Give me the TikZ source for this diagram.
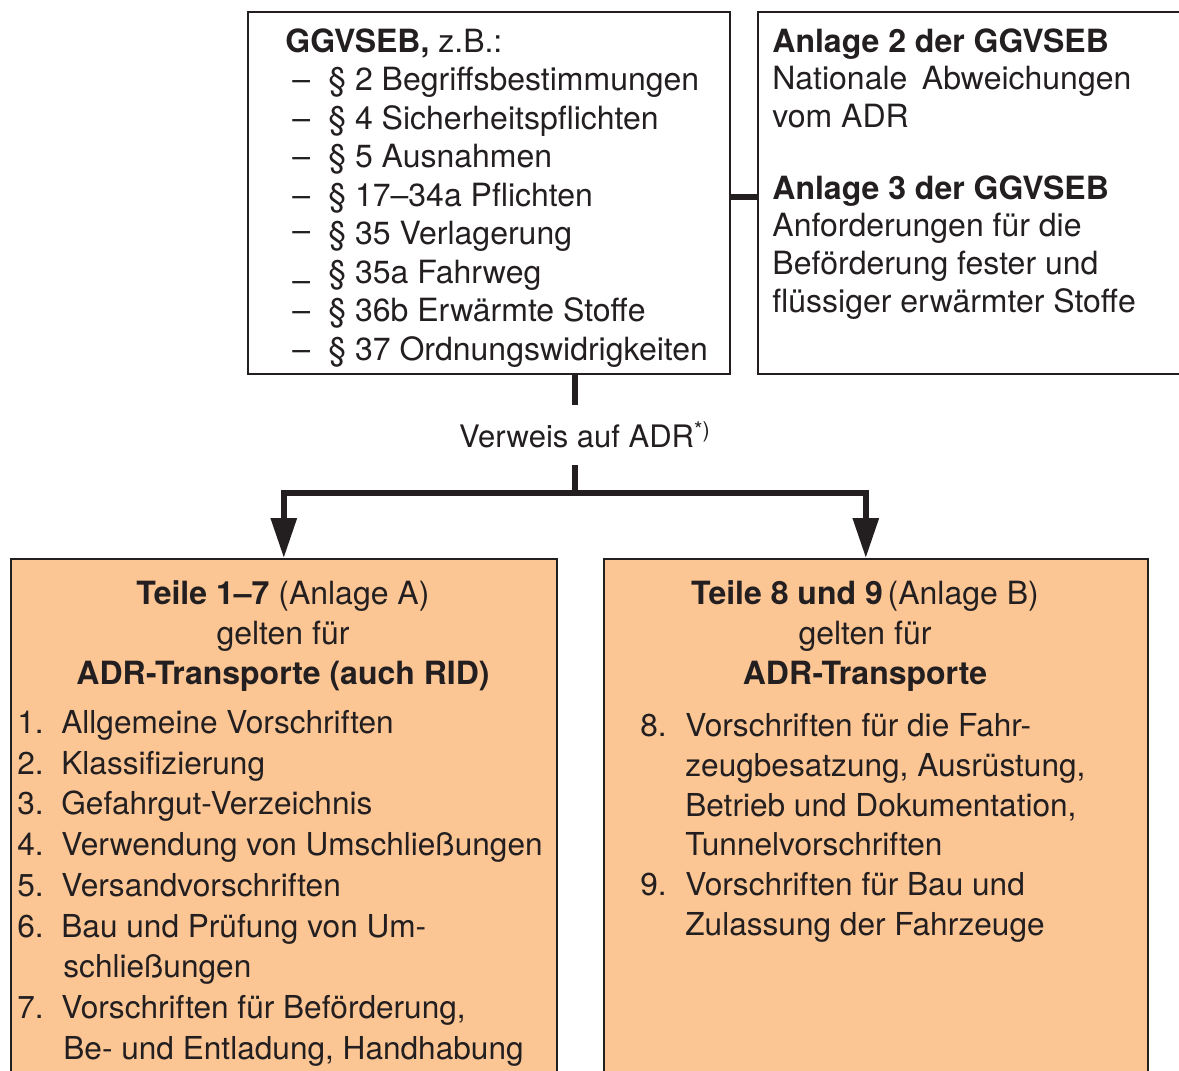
\documentclass[tikz,border=0pt]{standalone}
\usepackage{fontspec}
\setmainfont{TeX Gyre Heros}
\usetikzlibrary{arrows.meta}
\definecolor{peach}{RGB}{251,197,148}
\definecolor{ink}{RGB}{35,31,32}

\begin{document}
\begin{tikzpicture}[x=0.5pt,y=-0.5pt,
  >={Triangle[length=20pt,width=12.5pt]},
  box/.style={draw=ink,line width=0.8pt,inner sep=0pt,anchor=north west},
  peachbox/.style={box,fill=peach},
  txt/.style={inner sep=0pt,text=ink,align=left},
  link/.style={draw=ink,line width=3pt}]

\useasboundingbox (0,0) rectangle (1179,1071);
\clip (0,0) rectangle (1179,1071);

% boxes
\node(ggv) at (247,11)[box,minimum width=241pt,minimum height=181pt] {};
\node(anl) at (757,11)[box,minimum width=240pt,minimum height=181pt] {};
\node(teilA) at (10,558)[peachbox,minimum width=273pt,minimum height=300pt] {};
\node(teilB) at (603,558)[peachbox,minimum width=272pt,minimum height=300pt] {};

% texts
\node(ggvtext) at (285,28)[txt,anchor=north west,font=\fontsize{16}{19.25}\selectfont] {\textbf{GGVSEB,} z.B.:\\
  \hspace*{3.5pt}\makebox[18pt][l]{–}§ 2 Begriffsbestimmungen\\
  \hspace*{3.5pt}\makebox[18pt][l]{–}§ 4 Sicherheitspflichten\\
  \hspace*{3.5pt}\makebox[18pt][l]{–}§ 5 Ausnahmen\\
  \hspace*{3.5pt}\makebox[18pt][l]{–}§ 17–34a Pflichten\\
  \hspace*{3.5pt}\makebox[18pt][l]{\raisebox{1.5pt}{–}}§ 35 Verlagerung\\
  \hspace*{3.5pt}\makebox[18pt][l]{\raisebox{-4pt}{–}}§ 35a Fahrweg\\
  \hspace*{3.5pt}\makebox[18pt][l]{–}§ 36b Erwärmte Stoffe\\
  \hspace*{3.5pt}\makebox[18pt][l]{–}§ 37 Ordnungswidrigkeiten};

\node(anltext) at (772,28)[txt,anchor=north west,font=\fontsize{16}{18.8}\selectfont] {\textbf{Anlage 2 der GGVSEB}\\
  Nationale\hspace{0.45em}Abweichungen\\
  vom ADR\\[17.2pt]
  \textbf{Anlage 3 der GGVSEB}\\
  Anforderungen für die\\
  Beförderung fester und\\
  flüssiger erwärmter Stoffe};

\node(verweis) at (585,435)[txt,inner sep=8pt,font=\fontsize{15.5}{18}\selectfont] {Verweis auf ADR\textsuperscript{*)}};

\node(headA) at (283,580)[txt,anchor=north,align=center,font=\fontsize{16}{20}\selectfont] {\textbf{Teile 1–7} (Anlage A)\\
  gelten für\\
  \textbf{ADR-Transporte (auch RID)}};
\node(headB) at (865,580)[txt,anchor=north,align=center,font=\fontsize{16}{20}\selectfont] {\textbf{Teile 8 und 9}\hspace{0.15em}(Anlage B)\\
  gelten für\\
  \textbf{ADR-Transporte}};

\node(listA) at (17,710)[txt,anchor=north west,font=\fontsize{15.8}{20.35}\selectfont] {\makebox[22pt][l]{1.}Allgemeine Vorschriften\\
  \makebox[22pt][l]{2.}Klassifizierung\\
  \makebox[22pt][l]{3.}Gefahrgut-Verzeichnis\\
  \makebox[22pt][l]{4.}Verwendung von Umschließungen\\
  \makebox[22pt][l]{5.}Versandvorschriften\\
  \makebox[22pt][l]{6.}Bau und Prüfung von Um-\\
  \hspace*{23pt}schließungen\\
  \makebox[22pt][l]{7.}Vorschriften für Beförderung,\\
  \hspace*{23pt}Be- und Entladung, Handhabung};
\node(listB) at (640,713)[txt,anchor=north west,font=\fontsize{15.8}{19.9}\selectfont] {\makebox[22.5pt][l]{8.}Vorschriften für die Fahr-\\
  \hspace*{22.5pt}zeugbesatzung, Ausrüstung,\\
  \hspace*{22.5pt}Betrieb und Dokumentation,\\
  \hspace*{22.5pt}Tunnelvorschriften\\
  \makebox[22.5pt][l]{9.}Vorschriften für Bau und\\
  \hspace*{22.5pt}Zulassung der Fahrzeuge};

% connectors
\coordinate(split) at (575,493);
\draw[link] ([yshift=-2pt]ggv.east) -- ([yshift=-2pt]anl.west);
\draw[link] (ggv.south -| split) -- (verweis.north -| split);
\draw[link] (verweis.south -| split) -- (split);
\draw[link,->] (split) -| (teilA.north);
\draw[link,->] (split) -| ([xshift=-5pt]teilB.north);

\end{tikzpicture}
\end{document}
